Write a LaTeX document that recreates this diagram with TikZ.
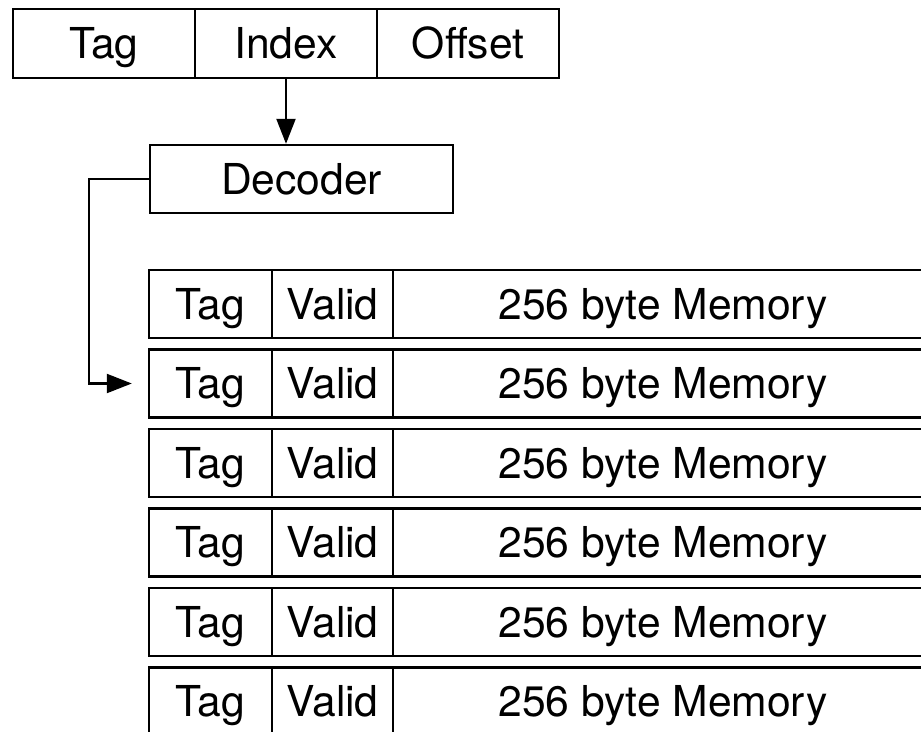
\documentclass[tikz,border=0pt]{standalone}
\usepackage{fontspec}
\setmainfont{TeX Gyre Heros}
\usetikzlibrary{arrows.meta}
\begin{document}
\begin{tikzpicture}[x=1pt,y=-1pt,
  cell/.style={draw, line width=2.4pt, rectangle, inner sep=0pt,
    minimum height=68pt, text height=30.5pt, text depth=0pt,
    font=\fontsize{42.6}{50}\selectfont},
  link/.style={line width=2.2pt, -{Triangle[length=25pt,width=19pt]}}]
\clip (0,0) rectangle (921,731);
\fill[white] (0,0) rectangle (921,731);

% address fields
\node[cell, minimum width=182pt, minimum height=69pt] (atag) at (104,43.5) {Tag};
\node[cell, minimum width=182pt, minimum height=69pt] (aidx) at (286,43.5) {Index};
\node[cell, minimum width=182pt, minimum height=69pt] (aoff) at (468,43.5) {Offset};

% decoder
\node[cell, minimum width=303pt] (dec) at (301.5,179) {Decoder};

% cache lines
\foreach \i in {1,...,6} {
  \pgfmathsetmacro\yc{304+(\i-1)*79.5}
  \node[cell, minimum width=123pt] (r\i-tag) at (210.5,\yc) {Tag};
  \node[cell, minimum width=121pt] (r\i-valid) at (332.5,\yc) {Valid};
  \node[cell, minimum width=540pt] (r\i-mem) at (663,\yc) {256 byte Memory};
}

% connectors
\coordinate (bend) at (89,0);
\draw[link] (aidx.south) -- (aidx.south |- dec.north);
\draw[link, shorten >=16pt] (dec.west) -| (bend |- r2-tag.west) -- (r2-tag.west);
\end{tikzpicture}
\end{document}
